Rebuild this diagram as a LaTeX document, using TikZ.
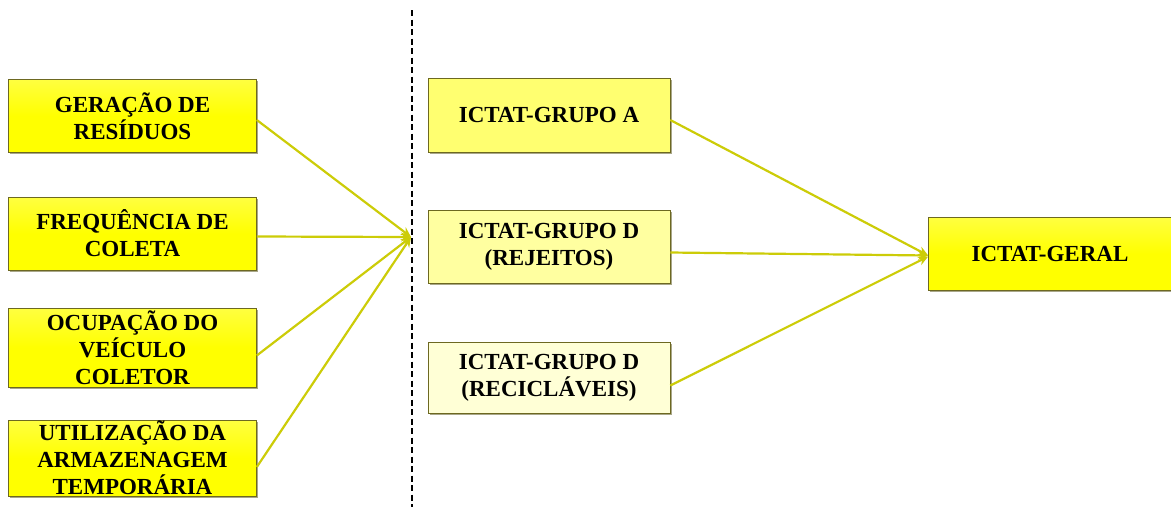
\documentclass[tikz,border=0pt]{standalone}
\usepackage{fontspec}
\setmainfont{Liberation Serif}
\usetikzlibrary{arrows.meta,shadows}
\definecolor{boxA}{HTML}{FFFF70}
\definecolor{boxD}{HTML}{FFFFA0}
\definecolor{boxR}{HTML}{FFFFD6}
\definecolor{link}{HTML}{CCCC08}
\begin{document}
\begin{tikzpicture}[x=1pt,y=-1pt,
  card/.style={draw=olive!70!black, line width=0.6pt, align=center,
    font=\bfseries\fontsize{23}{27}\selectfont, inner sep=0pt,
    drop shadow={shadow xshift=1.6pt, shadow yshift=-1.8pt, fill=olive!60!black, opacity=0.55}},
  hot/.style={card, top color=yellow!75!white, bottom color=yellow, middle color=yellow},
  link/.style={draw=link, line width=2.2pt, -{Stealth[length=10pt,width=9pt]}}]
\useasboundingbox (0,0) rectangle (1171,507);

% input indicators
\node[hot, minimum width=248pt, minimum height=73pt] (ger) at (132.5,116) {GERAÇÃO DE\\RESÍDUOS};
\node[hot, minimum width=248pt, minimum height=73pt] (fre) at (132.5,233.5) {FREQUÊNCIA DE\\COLETA};
\node[hot, minimum width=248pt, minimum height=79pt] (ocu) at (132.5,347.5) {OCUPAÇÃO DO\\VEÍCULO\\COLETOR};
\node[hot, minimum width=248pt, minimum height=76pt] (uti) at (132.5,458) {UTILIZAÇÃO DA\\ARMAZENAGEM\\TEMPORÁRIA};

% group indices
\node[card, fill=boxA, minimum width=242pt, minimum height=74pt] (ga) at (549,115) {ICTAT-GRUPO A};
\node[card, fill=boxD, minimum width=242pt, minimum height=73pt] (gd) at (549,246.5) {ICTAT-GRUPO D\\(REJEITOS)};
\node[card, fill=boxR, minimum width=242pt, minimum height=71pt] (gr) at (549,377.5) {ICTAT-GRUPO D\\(RECICLÁVEIS)};

% overall index
\node[hot, minimum width=243pt, minimum height=73pt] (geral) at (1050,253.5) {ICTAT-GERAL};

% divider
\coordinate (dtop) at (412,10);
\coordinate (dbot) at (412,507);
\draw[black, line width=1.8pt, dash pattern=on 6pt off 3.5pt] (dtop) -- (dbot);

% convergence of the inputs
\coordinate (hub) at (411,237);
\draw[link] ([yshift=-4pt]ger.east) -- (hub);
\draw[link] ([yshift=-3pt]fre.east) -- (hub);
\draw[link] ([yshift=-8pt]ocu.east) -- (hub);
\draw[link] ([yshift=-9pt]uti.east) -- (hub);

% groups into the overall index
\draw[link] ([yshift=-5pt]ga.east) -- ([yshift=-2pt]geral.west);
\draw[link] ([yshift=-6pt]gd.east) -- ([yshift=-2pt]geral.west);
\draw[link] ([yshift=-8pt]gr.east) -- ([yshift=-3pt]geral.west);
\end{tikzpicture}
\end{document}
